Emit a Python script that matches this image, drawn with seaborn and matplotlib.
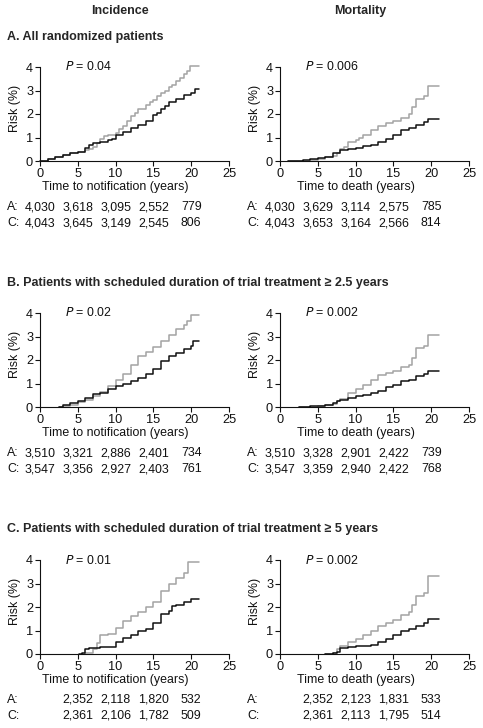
import matplotlib
matplotlib.use("Agg")
import matplotlib.pyplot as plt
import matplotlib.transforms as mtransforms
import seaborn as sns
import pandas as pd

sns.set_theme(style="ticks")
plt.rcParams['font.family'] = ['Liberation Sans', 'DejaVu Sans']

# ---------------- data ----------------
col_titles = ["Incidence", "Mortality"]
row_titles = ["A. All randomized patients",
              "B. Patients with scheduled duration of trial treatment \u2265 2.5 years",
              "C. Patients with scheduled duration of trial treatment \u2265 5 years"]
xlabels = ["Time to notification (years)", "Time to death (years)"]
p_values = [["0.04", "0.006"], ["0.02", "0.002"], ["0.01", "0.002"]]

# Panel A incidence
incA_grey_t = [0, 1, 2, 3, 4, 5, 6, 6.5, 7, 7.5, 8, 8.5, 9, 10, 10.5, 11, 11.5, 12, 12.5, 13, 14, 14.5, 15, 15.5, 16, 16.5, 17, 17.5, 18, 18.5, 19, 19.5, 19.8, 21]
incA_grey_r = [0, 0.07, 0.15, 0.25, 0.32, 0.4, 0.47, 0.52, 0.6, 0.75, 0.95, 1.05, 1.1, 1.2, 1.35, 1.5, 1.7, 1.9, 2.05, 2.2, 2.4, 2.5, 2.6, 2.75, 2.9, 3.0, 3.15, 3.25, 3.4, 3.55, 3.7, 3.85, 4.05, 4.05]
incA_black_t = [0, 1, 2, 3, 4, 5, 6, 6.5, 7, 8, 9, 9.5, 10, 11, 12, 13, 14, 15, 15.5, 16, 16.5, 17, 18, 19, 20, 20.5, 21]
incA_black_r = [0, 0.07, 0.15, 0.25, 0.32, 0.4, 0.55, 0.7, 0.78, 0.8, 0.88, 0.95, 1.1, 1.25, 1.4, 1.55, 1.7, 1.95, 2.05, 2.2, 2.35, 2.5, 2.65, 2.8, 2.9, 3.05, 3.05]
# Panel A mortality
mortA_grey_t = [1, 4, 5, 6, 7, 7.5, 8, 8.5, 9, 10, 10.5, 11, 12, 13, 14, 15, 16, 17, 17.5, 18, 19, 19.6, 21]
mortA_grey_r = [0, 0.05, 0.1, 0.15, 0.2, 0.35, 0.5, 0.6, 0.8, 0.9, 1.0, 1.1, 1.3, 1.5, 1.6, 1.7, 1.85, 2.0, 2.3, 2.65, 2.75, 3.2, 3.2]
mortA_black_t = [1, 3, 4, 5, 6, 7, 8, 9, 10, 11, 12, 13, 14, 15, 16, 17, 18, 19, 19.6, 21]
mortA_black_r = [0, 0.05, 0.1, 0.12, 0.18, 0.35, 0.45, 0.5, 0.55, 0.65, 0.7, 0.8, 0.95, 1.1, 1.3, 1.4, 1.55, 1.65, 1.8, 1.8]
# Panel B incidence
incB_grey_t = [2.5, 3, 4, 5, 6, 7, 8, 9, 10, 11, 12, 13, 14, 15, 16, 17, 18, 19, 19.5, 20, 21]
incB_grey_r = [0, 0.05, 0.1, 0.2, 0.3, 0.45, 0.65, 0.9, 1.15, 1.4, 1.8, 2.15, 2.35, 2.55, 2.8, 3.05, 3.3, 3.5, 3.65, 3.9, 3.9]
incB_black_t = [2.5, 3, 4, 5, 6, 7, 8, 9, 10, 11, 12, 13, 14, 15, 16, 17, 18, 19, 20, 20.3, 21]
incB_black_r = [0, 0.1, 0.15, 0.25, 0.4, 0.55, 0.6, 0.75, 0.9, 1.0, 1.1, 1.25, 1.4, 1.6, 1.95, 2.15, 2.3, 2.45, 2.6, 2.8, 2.8]
# Panel B mortality
mortB_grey_t = [2.5, 5, 6, 7, 7.5, 8, 9, 10, 11, 12, 13, 14, 15, 16, 17, 17.5, 18, 19, 19.6, 21]
mortB_grey_r = [0, 0.05, 0.08, 0.12, 0.25, 0.35, 0.6, 0.75, 0.95, 1.15, 1.35, 1.45, 1.55, 1.7, 1.8, 2.1, 2.5, 2.6, 3.05, 3.05]
mortB_black_t = [2.5, 4, 5, 6, 7, 7.5, 8, 9, 10, 11, 12, 13, 14, 15, 16, 17, 18, 19, 19.6, 21]
mortB_black_r = [0, 0.03, 0.05, 0.08, 0.15, 0.25, 0.3, 0.4, 0.45, 0.5, 0.6, 0.7, 0.85, 0.95, 1.1, 1.15, 1.3, 1.4, 1.55, 1.55]
# Panel C incidence
incC_grey_t = [5.5, 6, 7, 7.5, 8, 9, 10, 11, 12, 13, 14, 15, 16, 17, 18, 19, 19.6, 21]
incC_grey_r = [0, 0.05, 0.2, 0.45, 0.8, 0.85, 1.1, 1.4, 1.6, 1.8, 2.0, 2.2, 2.7, 3.0, 3.25, 3.45, 3.9, 3.9]
incC_black_t = [5.2, 5.5, 6, 6.5, 8, 9, 10, 11, 12, 13, 14, 15, 16, 17, 17.5, 18, 19, 20, 21]
incC_black_r = [0, 0.05, 0.2, 0.25, 0.3, 0.3, 0.5, 0.7, 0.8, 1.0, 1.05, 1.3, 1.7, 1.85, 2.05, 2.1, 2.2, 2.35, 2.35]
# Panel C mortality
mortC_grey_t = [6, 7, 7.5, 8, 9, 10, 11, 12, 13, 14, 15, 16, 17, 17.5, 18, 19, 19.6, 21]
mortC_grey_r = [0, 0.05, 0.2, 0.35, 0.5, 0.65, 0.8, 1.0, 1.2, 1.3, 1.45, 1.65, 1.8, 2.1, 2.45, 2.6, 3.3, 3.3]
mortC_black_t = [6, 7, 7.5, 8, 9, 10, 11, 12, 13, 14, 15, 16, 17, 18, 19, 19.6, 21]
mortC_black_r = [0, 0.05, 0.1, 0.25, 0.3, 0.35, 0.35, 0.4, 0.5, 0.65, 0.8, 1.0, 1.05, 1.2, 1.3, 1.5, 1.5]

# numbers at risk
risk_times_AB = [0, 5, 10, 15, 20]
risk_times_C = [5, 10, 15, 20]
incA_riskA = ["4,030", "3,618", "3,095", "2,552", "779"]
incA_riskC = ["4,043", "3,645", "3,149", "2,545", "806"]
mortA_riskA = ["4,030", "3,629", "3,114", "2,575", "785"]
mortA_riskC = ["4,043", "3,653", "3,164", "2,566", "814"]
incB_riskA = ["3,510", "3,321", "2,886", "2,401", "734"]
incB_riskC = ["3,547", "3,356", "2,927", "2,403", "761"]
mortB_riskA = ["3,510", "3,328", "2,901", "2,422", "739"]
mortB_riskC = ["3,547", "3,359", "2,940", "2,422", "768"]
incC_riskA = ["2,352", "2,118", "1,820", "532"]
incC_riskC = ["2,361", "2,106", "1,782", "509"]
mortC_riskA = ["2,352", "2,123", "1,831", "533"]
mortC_riskC = ["2,361", "2,113", "1,795", "514"]

x_ticks = [0, 5, 10, 15, 20, 25]
y_ticks = [0, 1, 2, 3, 4]

curves = [
    [(incA_grey_t, incA_grey_r, incA_black_t, incA_black_r), (mortA_grey_t, mortA_grey_r, mortA_black_t, mortA_black_r)],
    [(incB_grey_t, incB_grey_r, incB_black_t, incB_black_r), (mortB_grey_t, mortB_grey_r, mortB_black_t, mortB_black_r)],
    [(incC_grey_t, incC_grey_r, incC_black_t, incC_black_r), (mortC_grey_t, mortC_grey_r, mortC_black_t, mortC_black_r)],
]
risks = [
    [(risk_times_AB, incA_riskA, incA_riskC), (risk_times_AB, mortA_riskA, mortA_riskC)],
    [(risk_times_AB, incB_riskA, incB_riskC), (risk_times_AB, mortB_riskA, mortB_riskC)],
    [(risk_times_C, incC_riskA, incC_riskC), (risk_times_C, mortC_riskA, mortC_riskC)],
]

# ---------------- layout (pixels) ----------------
W, H = 483, 728
fig = plt.figure(figsize=(W / 100, H / 100), dpi=100)
col_left = [40, 280]
ax_w = 189
row_top = [67, 313, 560]
ax_h = 94
row_head_y = [37, 283, 529]
FS = 8.9
FSB = 9.0
GREY = "#a3a3a3"
BLACK = "#111111"

def fy(px):
    return 1 - px / H

fig.text(120 / W, fy(11), col_titles[0], ha="center", va="center", fontsize=FSB, fontweight="bold")
fig.text(360 / W, fy(11), col_titles[1], ha="center", va="center", fontsize=FSB, fontweight="bold")

for i in range(3):
    fig.text(7 / W, fy(row_head_y[i]), row_titles[i], ha="left", va="center", fontsize=FSB, fontweight="bold")
    for j in range(2):
        ax = fig.add_axes([col_left[j] / W, fy(row_top[i] + ax_h), ax_w / W, ax_h / H])
        gt, gr, bt, br = curves[i][j]
        dg = pd.DataFrame({"t": gt, "r": gr})
        db = pd.DataFrame({"t": bt, "r": br})
        sns.lineplot(data=dg, x="t", y="r", ax=ax, color=GREY, lw=1.1, estimator=None,
                     drawstyle="steps-post", clip_on=False)
        sns.lineplot(data=db, x="t", y="r", ax=ax, color=BLACK, lw=1.1, estimator=None,
                     drawstyle="steps-post", clip_on=False)
        ax.set_xlim(0, 25)
        ax.set_ylim(0, 4)
        ax.set_xticks(x_ticks)
        ax.set_yticks(y_ticks)
        ax.set_xlabel("")
        ax.set_ylabel("")
        ax.set_facecolor("none")
        for s in ["top", "right"]:
            ax.spines[s].set_visible(False)
        for s in ["left", "bottom"]:
            ax.spines[s].set_linewidth(0.8)
            ax.spines[s].set_color("#111111")
        ax.tick_params(axis="both", direction="out", length=3.5, width=0.8, color="#111111",
                       labelsize=FS + 0.3, pad=1.5, labelcolor="#111111")
        ax.text(3.3, 4.0, "$P$ = " + p_values[i][j], fontsize=FS, ha="left", va="center",
                color="#111111")
        # y label
        fig.text((col_left[j] - 25) / W, fy(row_top[i] + 41), "Risk (%)", rotation=90,
                 ha="center", va="center", fontsize=FS, color="#111111")
        bottom = row_top[i] + ax_h
        trans = mtransforms.blended_transform_factory(ax.transData, fig.transFigure)
        ax.text(10, fy(bottom + 26), xlabels[j], transform=trans, ha="center", va="center",
                fontsize=FS, color="#111111")
        tt, ra, rc = risks[i][j]
        fig.text((col_left[j] - 33) / W, fy(bottom + 46), "A:", ha="left", va="center", fontsize=FS, color="#111111")
        fig.text((col_left[j] - 33) / W, fy(bottom + 62), "C:", ha="left", va="center", fontsize=FS, color="#111111")
        for t, a, c in zip(tt, ra, rc):
            ax.text(t, fy(bottom + 46), a, transform=trans, ha="center", va="center", fontsize=FS, color="#111111")
            ax.text(t, fy(bottom + 62), c, transform=trans, ha="center", va="center", fontsize=FS, color="#111111")

fig.savefig("out.png", dpi=100, facecolor="white")
